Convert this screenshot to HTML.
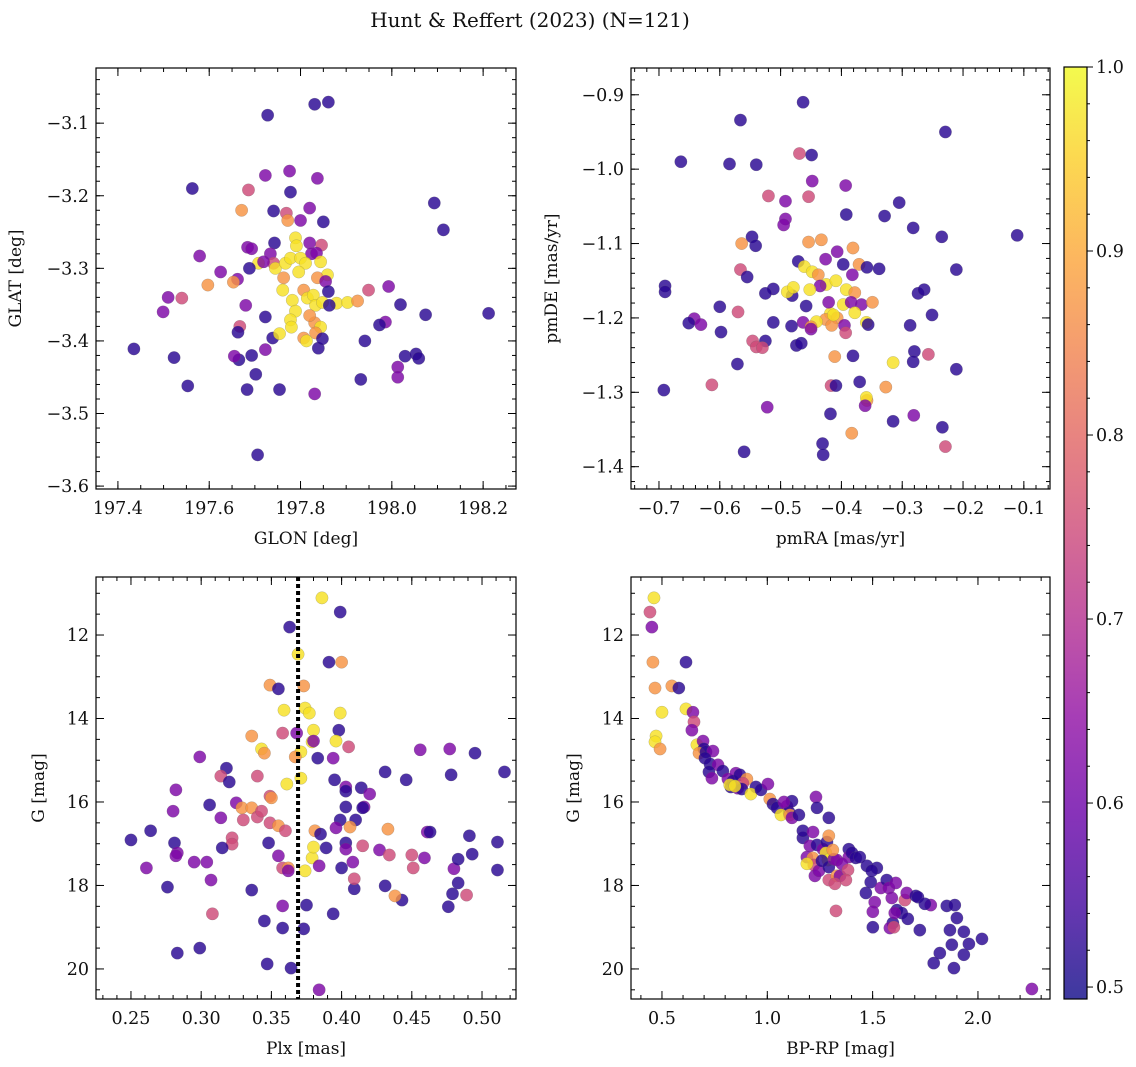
<!DOCTYPE html>
<html><head><meta charset="utf-8">
<style>
html,body{margin:0;padding:0;background:#fff;}
svg{display:block;font-family:"DejaVu Serif","Liberation Serif",serif;}
</style></head>
<body>
<svg id="chart" width="1136" height="1067" viewBox="0 0 1136 1067" xmlns="http://www.w3.org/2000/svg">
<text x="530" y="27" font-size="20" text-anchor="middle" fill="#111">Hunt &amp; Reffert (2023) (N=121)</text>
</svg>
<script>
// ---------- data ----------
const tlLon=[197.831,197.861,197.728,197.563,197.686,197.723,197.776,197.837,197.778,198.093,198.113,197.671,197.741,197.820,197.800,197.769,197.772,197.789,197.850,197.846,197.743,197.734,197.741,197.791,197.820,197.824,197.835,197.844,197.859,197.708,197.719,197.684,197.688,197.662,197.625,197.579,197.597,197.540,197.510,197.499,197.435,197.523,197.553,197.653,197.693,197.745,197.763,197.767,197.778,197.800,197.811,197.761,197.782,197.796,197.807,197.815,197.828,197.837,197.855,197.833,197.848,197.879,197.903,197.861,197.863,197.680,197.723,197.789,197.778,197.831,197.844,197.807,197.833,197.667,197.663,197.739,197.780,197.693,197.723,197.665,197.839,197.683,197.754,197.831,197.702,197.655,197.925,197.949,197.993,198.019,197.986,197.973,198.074,197.941,197.932,198.013,198.029,198.053,198.059,198.013,197.706,198.212,197.813,197.848,197.820,197.754];
const tlLat=[-3.074,-3.071,-3.089,-3.190,-3.192,-3.172,-3.166,-3.176,-3.195,-3.210,-3.247,-3.220,-3.221,-3.217,-3.234,-3.224,-3.234,-3.258,-3.236,-3.268,-3.265,-3.280,-3.293,-3.269,-3.265,-3.280,-3.279,-3.291,-3.309,-3.293,-3.291,-3.271,-3.300,-3.315,-3.305,-3.283,-3.323,-3.341,-3.340,-3.360,-3.411,-3.423,-3.462,-3.319,-3.273,-3.300,-3.313,-3.293,-3.286,-3.286,-3.293,-3.330,-3.344,-3.305,-3.330,-3.341,-3.337,-3.313,-3.318,-3.351,-3.347,-3.348,-3.347,-3.332,-3.351,-3.351,-3.367,-3.359,-3.371,-3.375,-3.381,-3.396,-3.389,-3.380,-3.388,-3.396,-3.381,-3.420,-3.412,-3.426,-3.410,-3.467,-3.467,-3.473,-3.446,-3.421,-3.345,-3.330,-3.325,-3.350,-3.374,-3.378,-3.364,-3.400,-3.453,-3.436,-3.421,-3.418,-3.424,-3.450,-3.557,-3.362,-3.400,-3.397,-3.365,-3.390];
const tlProb=[0.52,0.52,0.52,0.52,0.75,0.62,0.62,0.62,0.52,0.52,0.52,0.87,0.52,0.62,0.62,0.75,0.87,0.97,0.52,0.75,0.52,0.62,0.75,0.97,0.62,0.62,0.62,0.97,0.97,0.97,0.62,0.62,0.52,0.62,0.62,0.62,0.87,0.75,0.62,0.62,0.52,0.52,0.52,0.87,0.62,0.97,0.87,0.97,0.97,0.97,0.97,0.97,0.97,0.97,0.87,0.97,0.97,0.87,0.62,0.97,0.97,0.97,0.97,0.52,0.52,0.62,0.52,0.97,0.97,0.87,0.97,0.87,0.87,0.75,0.52,0.52,0.97,0.52,0.62,0.52,0.52,0.52,0.52,0.62,0.52,0.62,0.87,0.75,0.62,0.52,0.62,0.52,0.52,0.52,0.52,0.62,0.52,0.52,0.52,0.62,0.52,0.52,0.97,0.52,0.87,0.97];

const trRA=[-0.463,-0.566,-0.229,-0.664,-0.584,-0.540,-0.449,-0.469,-0.448,-0.393,-0.520,-0.454,-0.492,-0.392,-0.329,-0.305,-0.282,-0.235,-0.547,-0.492,-0.495,-0.454,-0.433,-0.381,-0.541,-0.564,-0.566,-0.426,-0.407,-0.397,-0.371,-0.358,-0.338,-0.382,-0.471,-0.461,-0.448,-0.438,-0.425,-0.409,-0.392,-0.378,-0.397,-0.418,-0.407,-0.426,-0.367,-0.359,-0.349,-0.384,-0.378,-0.435,-0.452,-0.481,-0.489,-0.479,-0.421,-0.416,-0.441,-0.458,-0.512,-0.525,-0.463,-0.450,-0.395,-0.413,-0.393,-0.356,-0.274,-0.264,-0.251,-0.211,-0.642,-0.690,-0.690,-0.651,-0.631,-0.600,-0.598,-0.570,-0.555,-0.512,-0.525,-0.546,-0.571,-0.692,-0.613,-0.540,-0.530,-0.474,-0.450,-0.482,-0.466,-0.411,-0.417,-0.409,-0.381,-0.370,-0.358,-0.359,-0.327,-0.315,-0.280,-0.282,-0.418,-0.361,-0.383,-0.315,-0.234,-0.431,-0.430,-0.522,-0.560,-0.111,-0.211,-0.257,-0.287,-0.229,-0.281];
const trDE=[-0.910,-0.934,-0.950,-0.990,-0.993,-0.994,-0.981,-0.979,-1.016,-1.022,-1.036,-1.037,-1.043,-1.061,-1.063,-1.045,-1.079,-1.091,-1.091,-1.067,-1.075,-1.098,-1.095,-1.106,-1.103,-1.100,-1.135,-1.121,-1.111,-1.128,-1.128,-1.132,-1.134,-1.142,-1.124,-1.131,-1.138,-1.142,-1.155,-1.150,-1.162,-1.166,-1.182,-1.194,-1.200,-1.202,-1.182,-1.206,-1.179,-1.179,-1.193,-1.157,-1.162,-1.170,-1.165,-1.159,-1.179,-1.210,-1.205,-1.184,-1.161,-1.167,-1.206,-1.212,-1.210,-1.196,-1.220,-1.209,-1.167,-1.162,-1.196,-1.135,-1.201,-1.157,-1.165,-1.207,-1.209,-1.185,-1.219,-1.192,-1.145,-1.206,-1.231,-1.231,-1.262,-1.297,-1.290,-1.239,-1.240,-1.237,-1.215,-1.211,-1.234,-1.252,-1.291,-1.291,-1.251,-1.286,-1.311,-1.307,-1.293,-1.260,-1.245,-1.259,-1.329,-1.318,-1.355,-1.339,-1.347,-1.369,-1.384,-1.320,-1.380,-1.089,-1.269,-1.249,-1.210,-1.373,-1.331];
const trProb=[0.52,0.52,0.52,0.52,0.52,0.52,0.52,0.75,0.62,0.62,0.75,0.75,0.62,0.52,0.52,0.52,0.52,0.52,0.52,0.62,0.62,0.87,0.87,0.87,0.52,0.87,0.75,0.62,0.62,0.52,0.87,0.52,0.52,0.62,0.52,0.97,0.97,0.87,0.97,0.97,0.97,0.87,0.97,0.97,0.87,0.87,0.62,0.97,0.87,0.62,0.97,0.62,0.97,0.52,0.97,0.97,0.62,0.87,0.97,0.52,0.52,0.52,0.62,0.87,0.62,0.97,0.75,0.52,0.52,0.52,0.52,0.52,0.62,0.52,0.52,0.52,0.62,0.52,0.52,0.75,0.52,0.52,0.52,0.75,0.52,0.52,0.75,0.75,0.75,0.52,0.62,0.52,0.52,0.87,0.75,0.52,0.52,0.52,0.87,0.97,0.87,0.97,0.52,0.52,0.52,0.62,0.87,0.52,0.52,0.52,0.52,0.62,0.52,0.52,0.52,0.75,0.52,0.75,0.62];

const blPlx=[0.386,0.399,0.363,0.400,0.391,0.369,0.349,0.355,0.373,0.359,0.374,0.377,0.399,0.336,0.358,0.368,0.380,0.398,0.396,0.379,0.371,0.405,0.380,0.367,0.299,0.343,0.345,0.318,0.340,0.314,0.349,0.325,0.306,0.320,0.361,0.371,0.383,0.394,0.395,0.403,0.403,0.414,0.420,0.416,0.410,0.403,0.399,0.431,0.446,0.415,0.456,0.477,0.478,0.516,0.495,0.250,0.282,0.280,0.281,0.283,0.264,0.314,0.330,0.329,0.336,0.340,0.350,0.343,0.349,0.355,0.360,0.348,0.322,0.322,0.304,0.295,0.307,0.308,0.282,0.261,0.276,0.299,0.283,0.315,0.336,0.355,0.358,0.362,0.381,0.374,0.379,0.380,0.362,0.384,0.403,0.385,0.403,0.406,0.396,0.400,0.415,0.408,0.389,0.409,0.427,0.433,0.434,0.409,0.443,0.459,0.461,0.450,0.463,0.491,0.480,0.483,0.479,0.489,0.476,0.511,0.511,0.345,0.358,0.373,0.347,0.364,0.375,0.394,0.358,0.384,0.493,0.451,0.483,0.431,0.438];
const blG=[11.11,11.45,11.81,12.65,12.65,12.46,13.20,13.29,13.22,13.80,13.75,13.87,13.87,14.42,14.35,14.35,14.28,14.28,14.54,14.56,14.80,14.68,14.54,14.92,14.92,14.73,14.83,15.19,15.38,15.38,15.86,16.02,16.07,15.52,15.57,15.43,14.95,14.95,15.47,15.64,15.74,15.66,15.81,16.12,16.43,16.12,16.43,15.28,15.47,16.14,14.75,14.73,15.35,15.28,14.83,16.91,15.71,16.22,16.98,17.22,16.69,16.38,16.43,16.14,16.14,16.36,15.90,16.22,16.50,16.57,16.69,16.98,16.86,17.01,17.44,17.44,17.87,18.68,17.29,17.58,18.04,19.50,19.62,17.10,18.11,17.29,17.58,17.58,16.69,17.65,17.34,17.08,17.65,17.53,16.98,16.77,17.13,16.60,16.62,17.58,17.05,17.44,17.10,18.08,17.15,16.65,17.27,17.84,18.35,17.34,16.72,17.27,16.72,16.81,17.60,17.94,18.20,18.23,18.51,16.96,17.63,18.85,19.02,19.04,19.88,19.98,18.47,18.68,18.49,20.50,17.25,17.58,17.37,18.01,18.25];
const blProb=[0.97,0.52,0.52,0.87,0.52,0.97,0.87,0.52,0.87,0.97,0.97,0.97,0.97,0.87,0.75,0.62,0.97,0.52,0.97,0.97,0.97,0.75,0.62,0.87,0.62,0.97,0.87,0.52,0.75,0.75,0.75,0.62,0.52,0.52,0.97,0.97,0.52,0.62,0.52,0.62,0.52,0.52,0.62,0.62,0.52,0.52,0.52,0.52,0.52,0.52,0.62,0.62,0.52,0.52,0.52,0.52,0.62,0.62,0.52,0.62,0.52,0.62,0.75,0.87,0.87,0.75,0.87,0.75,0.75,0.87,0.75,0.52,0.75,0.75,0.62,0.62,0.62,0.75,0.62,0.62,0.52,0.52,0.52,0.52,0.52,0.62,0.75,0.87,0.87,0.97,0.97,0.97,0.62,0.62,0.52,0.52,0.62,0.87,0.62,0.52,0.75,0.62,0.52,0.52,0.62,0.87,0.75,0.75,0.52,0.62,0.62,0.75,0.52,0.52,0.62,0.52,0.52,0.75,0.52,0.52,0.52,0.52,0.52,0.52,0.52,0.52,0.52,0.52,0.62,0.62,0.52,0.75,0.52,0.52,0.87];

const brColor=[0.462,0.443,0.452,0.614,0.457,0.467,0.547,0.580,0.500,0.614,0.647,0.652,0.642,0.472,0.467,0.491,0.666,0.695,0.699,0.676,0.709,0.742,0.704,0.728,0.766,0.723,0.737,0.789,0.813,0.851,0.837,0.870,0.827,0.903,0.884,0.860,0.946,0.879,0.822,0.846,0.922,0.970,1.003,1.012,1.027,1.046,1.093,1.103,1.117,1.079,1.065,1.107,1.117,1.231,1.236,1.150,1.169,1.202,1.188,1.169,1.217,1.236,1.264,1.283,1.292,1.292,1.278,1.288,1.216,1.221,1.188,1.226,1.245,1.259,1.292,1.316,1.330,1.311,1.292,1.330,1.387,1.387,1.354,1.345,1.383,1.402,1.420,1.439,1.373,1.321,1.326,1.473,1.520,1.496,1.468,1.491,1.510,1.539,1.567,1.577,1.610,1.591,1.615,1.596,1.638,1.653,1.605,1.662,1.705,1.501,1.582,1.601,1.715,1.852,1.776,1.724,1.748,1.890,1.900,1.867,1.933,1.876,1.933,1.819,1.790,1.957,2.019,1.886,2.256,1.501,1.667];
const brG=[11.11,11.45,11.81,12.65,12.65,13.27,13.22,13.27,13.85,13.77,13.85,14.08,14.28,14.42,14.56,14.73,14.63,14.54,14.73,14.83,14.80,14.78,14.95,15.09,15.11,15.28,15.43,15.26,15.45,15.31,15.50,15.35,15.64,15.45,15.55,15.67,15.64,15.69,15.59,15.62,15.81,15.71,15.57,15.93,16.05,16.14,16.10,16.24,15.98,16.00,16.31,16.31,16.38,15.88,16.14,16.31,16.86,17.05,17.32,16.69,16.72,17.03,17.13,16.96,16.38,16.81,17.22,17.39,17.34,17.51,17.48,17.77,17.65,17.41,17.56,17.37,17.39,17.15,17.87,17.77,17.13,17.32,17.48,17.77,17.63,17.22,17.34,17.32,17.87,17.96,18.61,17.53,17.58,17.65,18.18,17.92,18.40,18.06,17.87,18.06,17.94,18.30,18.59,18.90,18.66,18.35,18.66,18.18,18.25,19.00,19.02,19.00,18.28,18.49,18.47,19.07,18.44,18.47,18.78,19.07,19.11,19.42,19.66,19.62,19.86,19.40,19.28,19.98,20.48,18.63,18.80];
const brProb=[0.97,0.75,0.62,0.52,0.87,0.87,0.87,0.52,0.97,0.97,0.62,0.75,0.62,0.97,0.97,0.87,0.97,0.62,0.52,0.87,0.52,0.62,0.52,0.52,0.62,0.52,0.62,0.52,0.62,0.62,0.52,0.52,0.52,0.87,0.75,0.62,0.52,0.52,0.97,0.97,0.97,0.52,0.62,0.87,0.52,0.52,0.62,0.52,0.52,0.62,0.97,0.87,0.62,0.62,0.52,0.52,0.52,0.62,0.62,0.52,0.62,0.52,0.62,0.52,0.52,0.87,0.97,0.97,0.87,0.75,0.97,0.62,0.62,0.52,0.52,0.62,0.62,0.87,0.75,0.87,0.52,0.62,0.62,0.62,0.75,0.52,0.52,0.52,0.75,0.75,0.75,0.52,0.52,0.52,0.52,0.52,0.62,0.62,0.52,0.62,0.62,0.62,0.52,0.52,0.52,0.75,0.62,0.62,0.52,0.52,0.62,0.75,0.52,0.52,0.62,0.52,0.52,0.52,0.52,0.52,0.52,0.52,0.52,0.52,0.52,0.52,0.52,0.52,0.62,0.62,0.52];

const plxLine=0.369;

// tick labels (major)
const tlXTicks=[197.4,197.6,197.8,198.0,198.2];
const tlYTicks=[-3.6,-3.5,-3.4,-3.3,-3.2,-3.1];
const trXTicks=[-0.7,-0.6,-0.5,-0.4,-0.3,-0.2,-0.1];
const trYTicks=[-1.4,-1.3,-1.2,-1.1,-1.0,-0.9];
const blXTicks=[0.25,0.30,0.35,0.40,0.45,0.50];
const gTicks=[12,14,16,18,20];
const brXTicks=[0.5,1.0,1.5,2.0];
const cbTicks=[0.5,0.6,0.7,0.8,0.9,1.0];

// ---------- rendering ----------
const NS="http://www.w3.org/2000/svg";
const svg=document.getElementById('chart');
const FS=17.5;
function mk(tag,attrs,parent){const e=document.createElementNS(NS,tag);for(const k in attrs)e.setAttribute(k,attrs[k]);(parent||svg).appendChild(e);return e;}
const stops=[[13,8,135],[65,4,157],[106,0,168],[143,13,164],[177,42,144],[204,71,120],[225,100,98],[242,132,75],[252,166,54],[252,206,37],[240,249,33]];
const CBMIN=0.4935,CBMAX=1.0;
function plasma(v){let t=(v-CBMIN)/(CBMAX-CBMIN);t=Math.max(0,Math.min(1,t))*10;const i=Math.min(9,Math.floor(t)),f=t-i;const a=stops[i],b=stops[i+1];return `rgb(${Math.round(a[0]+(b[0]-a[0])*f)},${Math.round(a[1]+(b[1]-a[1])*f)},${Math.round(a[2]+(b[2]-a[2])*f)})`;}
function fmt(v,d){const s=Math.abs(v).toFixed(d);return (v<0?'\u2212':'')+s;}

function panel(cfg){
  const g=mk('g',{});
  
  
  const {x0,x1,y0,y1,xr,yr}=cfg;
  const sx=v=>x0+(v-xr[0])/(xr[1]-xr[0])*(x1-x0);
  const sy=v=>y1-(v-yr[0])/(yr[1]-yr[0])*(y1-y0);
  const pts=mk('g',{},g);
  
  
  for(let i=0;i<cfg.xs.length;i++){
    const c=mk('circle',{cx:sx(cfg.xs[i]),cy:sy(cfg.ys[i]),r:6.2,fill:plasma(cfg.cs[i]),'fill-opacity':0.82,stroke:'#666','stroke-opacity':0.5,'stroke-width':0.4},pts);
    
    
  }
  if(cfg.vline!==undefined){
    const l=mk('line',{x1:sx(cfg.vline),x2:sx(cfg.vline),y1:y0,y2:y1,stroke:'#000','stroke-width':4,'stroke-dasharray':'4,3'},g);
    
    
  }
  const fr=mk('rect',{x:x0,y:y0,width:x1-x0,height:y1-y0,fill:'none',stroke:'#000','stroke-width':1.2},g);
  
  
  const tk=mk('g',{stroke:'#000','stroke-width':1},g);
  const lo=Math.min(xr[0],xr[1]),hi=Math.max(xr[0],xr[1]);
  for(let v=Math.ceil(lo/cfg.xmin-1e-6)*cfg.xmin;v<=hi;v+=cfg.xmin){const X=sx(v);mk('line',{x1:X,x2:X,y1:y1,y2:y1-4},tk);mk('line',{x1:X,x2:X,y1:y0,y2:y0+4},tk);}
  const ylo=Math.min(yr[0],yr[1]),yhi=Math.max(yr[0],yr[1]);
  for(let v=Math.ceil(ylo/cfg.ymin-1e-6)*cfg.ymin;v<=yhi;v+=cfg.ymin){const Y=sy(v);mk('line',{x1:x0,x2:x0+4,y1:Y,y2:Y},tk);mk('line',{x1:x1,x2:x1-4,y1:Y,y2:Y},tk);}
  cfg.xt.forEach(v=>{const X=sx(v);mk('line',{x1:X,x2:X,y1:y1,y2:y1-8},tk);mk('line',{x1:X,x2:X,y1:y0,y2:y0+8},tk);
    const t=mk('text',{x:X,y:y1+25,'font-size':FS,'text-anchor':'middle',fill:'#111'},g);t.textContent=fmt(v,cfg.xd);
    
    });
  cfg.yt.forEach(v=>{const Y=sy(v);mk('line',{x1:x0,x2:x0+8,y1:Y,y2:Y},tk);mk('line',{x1:x1,x2:x1-8,y1:Y,y2:Y},tk);
    const t=mk('text',{x:x0-7,y:Y+6,'font-size':FS,'text-anchor':'end',fill:'#111'},g);t.textContent=fmt(v,cfg.yd);
    
    });
  const xl=mk('text',{x:(x0+x1)/2,y:y1+55,'font-size':17,'text-anchor':'middle',fill:'#111'},g);xl.textContent=cfg.xlabel;
  
  
  const yl=mk('text',{x:0,y:0,'font-size':17,'text-anchor':'middle',fill:'#111',transform:`translate(${cfg.ylx},${(y0+y1)/2}) rotate(-90)`},g);yl.textContent=cfg.ylabel;
  
  
}

panel({name:'glon-glat-panel',x0:96,x1:516,y0:68,y1:489,xr:[197.352,198.272],yr:[-3.604,-3.024],xs:tlLon,ys:tlLat,cs:tlProb,xt:tlXTicks,yt:tlYTicks,xmin:0.05,ymin:0.02,xd:1,yd:1,xlabel:'GLON [deg]',ylabel:'GLAT [deg]',ylx:21});
panel({name:'proper-motion-panel',x0:631,x1:1050,y0:68,y1:489,xr:[-0.746,-0.057],yr:[-1.430,-0.864],xs:trRA,ys:trDE,cs:trProb,xt:trXTicks,yt:trYTicks,xmin:0.02,ymin:0.02,xd:1,yd:1,xlabel:'pmRA [mas/yr]',ylabel:'pmDE [mas/yr]',ylx:557});
panel({name:'parallax-mag-panel',x0:96,x1:516,y0:577,y1:999,xr:[0.2251,0.5242],yr:[20.72,10.61],xs:blPlx,ys:blG,cs:blProb,xt:blXTicks,yt:gTicks,xmin:0.01,ymin:0.5,xd:2,yd:0,xlabel:'Plx [mas]',ylabel:'G [mag]',ylx:44,vline:plxLine});
panel({name:'cmd-panel',x0:631,x1:1050,y0:577,y1:999,xr:[0.353,2.342],yr:[20.72,10.61],xs:brColor,ys:brG,cs:brProb,xt:brXTicks,yt:gTicks,xmin:0.1,ymin:0.5,xd:1,yd:0,xlabel:'BP-RP [mag]',ylabel:'G [mag]',ylx:579});

// colorbar
(function(){
  const cx0=1064,cx1=1087,cy0=67,cy1=999;
  const g=mk('g',{});
  
  
  const defs=mk('defs',{},g);
  const lg=mk('linearGradient',{id:'pl',x1:0,y1:1,x2:0,y2:0},defs);
  stops.forEach((s,i)=>mk('stop',{offset:i/10,'stop-color':`rgb(${s[0]},${s[1]},${s[2]})`},lg));
  mk('rect',{x:cx0,y:cy0,width:cx1-cx0,height:cy1-cy0,fill:'url(#pl)','fill-opacity':0.8},g);
  mk('rect',{x:cx0,y:cy0,width:cx1-cx0,height:cy1-cy0,fill:'none',stroke:'#000','stroke-width':1.2},g);
  const sy=v=>cy1-(v-CBMIN)/(CBMAX-CBMIN)*(cy1-cy0);
  for(let v=0.5;v<=1.0001;v+=0.02){const Y=sy(v);mk('line',{x1:cx1,x2:cx1+3,y1:Y,y2:Y,stroke:'#000'},g);}
  cbTicks.forEach(v=>{const Y=sy(v);mk('line',{x1:cx1,x2:cx1+6,y1:Y,y2:Y,stroke:'#000'},g);
    const t=mk('text',{x:cx1+9,y:Y+6,'font-size':FS,fill:'#111'},g);t.textContent=v.toFixed(1);
    
    });
})();
</script>
</body></html>
